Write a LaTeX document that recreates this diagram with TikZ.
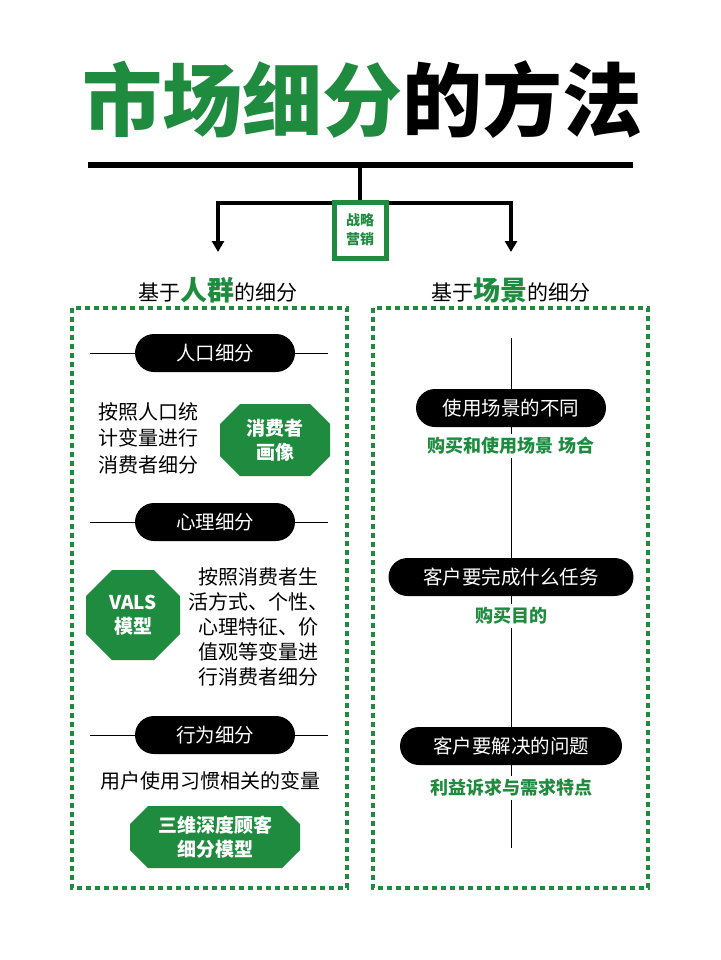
\documentclass[tikz,border=0pt]{standalone}
\usepackage{fontspec}
\setmainfont{Noto Sans CJK SC}
\usetikzlibrary{arrows.meta,calc}
\definecolor{mg}{HTML}{1F8B3F}
\newcommand\octo[4]{% center, half w, half h, chamfer
  \fill[mg] ($(#1)+(-#2+#4,-#3)$) -- ($(#1)+(#2-#4,-#3)$) -- ($(#1)+(#2,-#3+#4)$) -- ($(#1)+(#2,#3-#4)$) -- ($(#1)+(#2-#4,#3)$) -- ($(#1)+(-#2+#4,#3)$) -- ($(#1)+(-#2,#3-#4)$) -- ($(#1)+(-#2,-#3+#4)$) -- cycle;}
\begin{document}
\begin{tikzpicture}[x=1pt,y=-1pt,
  pill/.style={fill=black,rounded corners=19pt,minimum height=38pt,text=white,font=\fontsize{19.5}{22}\selectfont},
  oct/.style={text=white,inner sep=0pt,font=\bfseries\fontsize{19}{24}\selectfont,align=center},
  body/.style={font=\fontsize{20}{26.5}\selectfont,align=center},
  gtext/.style={text=mg,font=\bfseries\fontsize{18}{22}\selectfont},
  dotbox/.style={draw=mg,line width=4.5pt,dash pattern=on 5pt off 4pt},
  thin/.style={line width=1pt}]
\useasboundingbox (0,0) rectangle (720,960);
\fill[white] (0,0) rectangle (720,960);
% title
\node[font=\fontsize{80}{86}\selectfont\bfseries,inner sep=0pt] (title) at (362,100) {\textcolor{mg}{市场细分}的方法};
\coordinate (barL) at (88,165); \coordinate (barR) at (633,165);
\draw[line width=6pt] (barL) -- (barR);
\coordinate (stemT) at (360,165); \coordinate (stemB) at (360,203);
\coordinate (hL) at (218,203); \coordinate (hR) at (511,203);
\coordinate (aL) at (218,252); \coordinate (aR) at (511,252);
\draw[line width=4pt] (stemT) -- (stemB);
\draw[line width=4pt,-{Triangle[length=11pt,width=12pt]}] (stemB) -- (hL) -- (aL);
\draw[line width=4pt,-{Triangle[length=11pt,width=12pt]}] (stemB) -- (hR) -- (aR);
\node[draw=mg,fill=white,line width=5pt,minimum width=52pt,minimum height=56pt,align=center,text=mg,font=\bfseries\fontsize{14}{19}\selectfont] (sm) at (360,230) {战略\\营销};
% headings
\node[font=\fontsize{21}{24}\selectfont] (hl) at (218,290) {基于\textcolor{mg}{\bfseries\fontsize{27}{30}\selectfont 人群}的细分};
\node[font=\fontsize{21}{24}\selectfont] (hr) at (511,290) {基于\textcolor{mg}{\bfseries\fontsize{27}{30}\selectfont 场景}的细分};
% boxes
\draw[dotbox] (72,308) rectangle (347,888);
\draw[dotbox] (373,308) rectangle (648,888);
% left column
\foreach \y/\n/\t in {353/p1/人口细分,522/p2/心理细分,735/p3/行为细分}{
  \coordinate (\n l) at (90,\y); \coordinate (\n r) at (328,\y);
  \draw[thin] (\n l) -- (\n r);
  \node[pill,minimum width=160pt] (\n) at (215,\y) {\t};
}
\node[body] (t1) at (148,438) {按照人口统\\计变量进行\\消费者细分};
\coordinate (c1) at (275,440); \octo{c1}{55}{36}{20}
\node[oct] (o1) at (c1) {消费者\\画像};
\coordinate (c2) at (133,615); \octo{c2}{47}{45}{26}
\node[oct] (o2) at (c2) {VALS\\模型};
\node[body,font=\fontsize{20}{25}\selectfont] (t2) at (258,627) {按照消费者生\\活方式、个性、\\心理特征、价\\值观等变量进\\行消费者细分};
\node[body] (t3) at (210,781) {用户使用习惯相关的变量};
\coordinate (c3) at (215,837); \octo{c3}{85}{31}{18}
\node[oct] (o3) at (c3) {三维深度顾客\\细分模型};
% right column
\coordinate (vT) at (511,338); \coordinate (vB) at (511,848);
\draw[thin] (vT) -- (vB);
\node[pill,minimum width=190pt] (r1) at (511,408) {使用场景的不同};
\node[gtext,fill=white] (g1) at (511,446) {购买和使用场景 场合};
\node[pill,minimum width=245pt] (r2) at (511,577) {客户要完成什么任务};
\node[gtext,fill=white] (g2) at (511,616) {购买目的};
\node[pill,minimum width=222pt] (r3) at (511,746) {客户要解决的问题};
\node[gtext,fill=white] (g3) at (511,788) {利益诉求与需求特点};
\end{tikzpicture}
\end{document}
